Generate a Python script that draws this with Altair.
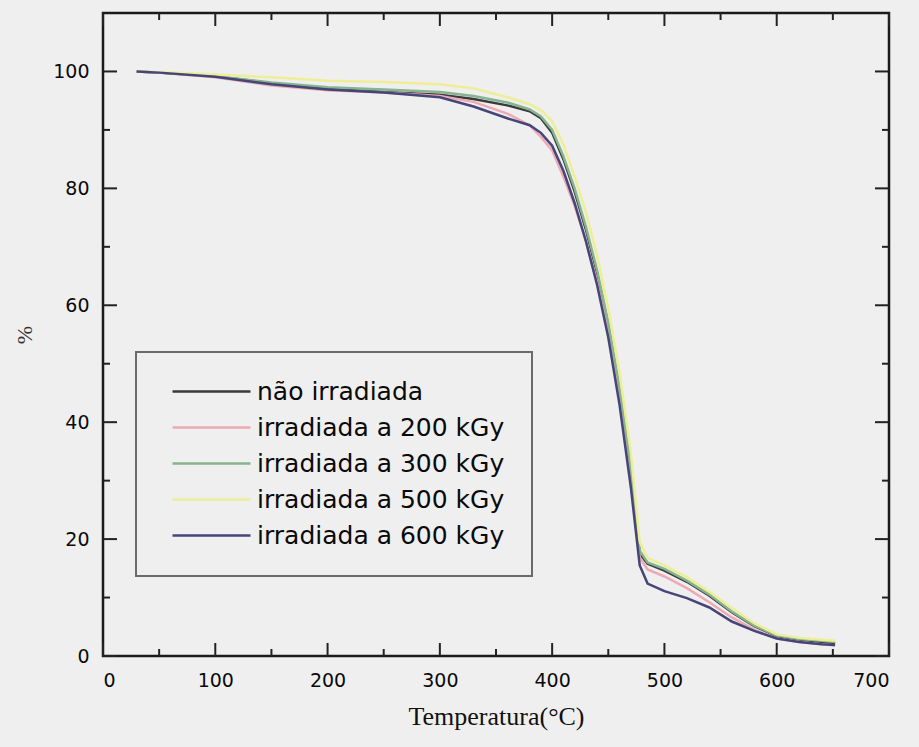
import altair as alt
import pandas as pd

# ---- data ----
temps = [30, 50, 100, 150, 200, 250, 300, 330, 360, 380, 390, 400, 410, 420, 430,
         440, 450, 460, 470, 478, 485, 500, 520, 540, 560, 580, 600, 620, 640, 652]

nao_irradiada = [100, 99.8, 99.2, 98.0, 97.0, 96.5, 96.0, 95.3, 94.2, 93.2, 92.0, 89.5, 85.0, 79.5, 73.0,
                 65.5, 56.5, 45.0, 31.0, 17.5, 15.8, 14.6, 12.7, 10.3, 7.5, 5.1, 3.4, 2.8, 2.4, 2.2]
irr_200 = [100, 99.8, 99.0, 97.6, 96.8, 96.4, 95.8, 94.8, 92.8, 90.8, 88.8, 86.5, 82.0, 77.0, 71.0,
           64.0, 55.5, 44.0, 30.0, 16.8, 14.8, 13.6, 11.6, 9.2, 6.6, 4.5, 3.0, 2.4, 2.0, 1.8]
irr_300 = [100, 99.8, 99.2, 98.1, 97.3, 96.9, 96.5, 95.8, 94.7, 93.5, 92.3, 90.0, 85.5, 80.0, 73.5,
           66.0, 57.0, 46.0, 32.5, 18.0, 16.0, 14.9, 12.9, 10.5, 7.6, 5.2, 3.5, 2.9, 2.6, 2.4]
irr_500 = [100, 99.9, 99.5, 99.0, 98.4, 98.2, 97.8, 97.1, 95.6, 94.4, 93.4, 91.5, 87.5, 82.0, 76.0,
           68.5, 59.5, 48.5, 35.0, 19.5, 16.8, 15.5, 13.5, 11.0, 8.2, 5.6, 3.7, 3.1, 2.8, 2.6]
irr_600 = [100, 99.8, 99.1, 97.8, 96.9, 96.4, 95.6, 94.0, 92.0, 90.8, 89.5, 87.3, 83.0, 77.5, 71.0,
           63.5, 54.5, 43.0, 29.0, 15.5, 12.4, 11.1, 9.9, 8.3, 5.9, 4.3, 3.0, 2.4, 2.0, 1.9]

series_names = ["não irradiada", "irradiada a 200 kGy", "irradiada a 300 kGy",
                "irradiada a 500 kGy", "irradiada a 600 kGy"]
series_values = [nao_irradiada, irr_200, irr_300, irr_500, irr_600]
series_colors = ["#3a3a3a", "#eeaab4", "#86b48e", "#eeee96", "#45457a"]
draw_order = [3, 1, 2, 0, 4]

x_ticks = [0, 100, 200, 300, 400, 500, 600, 700]
x_minor = [50, 150, 250, 350, 450, 550, 650]
y_ticks = [0, 20, 40, 60, 80, 100]
y_minor = [10, 30, 50, 70, 90]

rows = []
for name, vals, order in zip(series_names, series_values, draw_order):
    for t, v in zip(temps, vals):
        rows.append({"T": t, "P": v, "serie": name, "ordem": order})
df = pd.DataFrame(rows)

W, H = 786, 643
BG = "#efefef"

xscale = alt.Scale(domain=[0, 700], nice=False)
yscale = alt.Scale(domain=[0, 110], nice=False)

lines = alt.Chart(df).mark_line(strokeWidth=2.5).encode(
    x=alt.X("T:Q", scale=xscale,
            axis=alt.Axis(values=x_ticks, title="Temperatura(°C)", ticks=False, domain=False,
                          grid=False, labelPadding=15, titlePadding=13,
                          labelFont="DejaVu Sans", labelFontSize=19, labelColor="#0a0a0a",
                          titleFont="Liberation Serif", titleFontSize=26,
                          titleFontWeight="normal", titleColor="#111")),
    y=alt.Y("P:Q", scale=yscale,
            axis=alt.Axis(values=y_ticks, title="%", ticks=False, domain=False, grid=False,
                          labelPadding=14, titlePadding=16,
                          labelFont="DejaVu Sans", labelFontSize=19, labelColor="#0a0a0a",
                          titleFont="Liberation Serif", titleFontSize=22,
                          titleFontWeight="normal", titleColor="#333")),
    color=alt.Color("serie:N",
                    scale=alt.Scale(domain=series_names, range=series_colors),
                    legend=alt.Legend(title=None, orient="none", legendX=33, legendY=339,
                                      symbolType="M-4,0H4", symbolSize=380,
                                      symbolStrokeWidth=2.5, symbolOffset=36,
                                      labelOffset=33, labelFont="DejaVu Sans",
                                      labelFontSize=25, labelColor="#0a0a0a", labelLimit=400,
                                      padding=27, rowPadding=10,
                                      strokeColor="#6a6a6a", fillColor=BG)),
    order=alt.Order("ordem:Q"),
    detail="serie:N",
)

xt = pd.DataFrame({"T": x_ticks})
xm = pd.DataFrame({"T": x_minor})
yt = pd.DataFrame({"P": y_ticks})
ym = pd.DataFrame({"P": y_minor})

def xrules(d, y0, y1):
    return alt.Chart(d).mark_rule(color="#222", strokeWidth=2).encode(
        x=alt.X("T:Q", scale=xscale),
        y=alt.value(y0), y2=alt.value(y1))

def yrules(d, x0, x1):
    return alt.Chart(d).mark_rule(color="#222", strokeWidth=2).encode(
        y=alt.Y("P:Q", scale=yscale),
        x=alt.value(x0), x2=alt.value(x1))

ticks = [
    xrules(xt, H, H - 13), xrules(xm, H, H - 7),
    xrules(xt, 0, 13), xrules(xm, 0, 7),
    yrules(yt, 0, 14), yrules(ym, 0, 7),
    yrules(yt, W, W - 14), yrules(ym, W, W - 7),
]

chart = alt.layer(lines, *ticks).properties(
    width=W, height=H,
    background=BG,
    autosize=alt.AutoSizeParams(type="none"),
    padding={"left": 103, "top": 13, "right": 30, "bottom": 91},
).configure_view(
    stroke="#1a1a1a", strokeWidth=2.5, fill=BG
).configure_legend(
    strokeWidth=2
)

chart.save("out.html", embed_options={"renderer": "svg", "actions": False})
